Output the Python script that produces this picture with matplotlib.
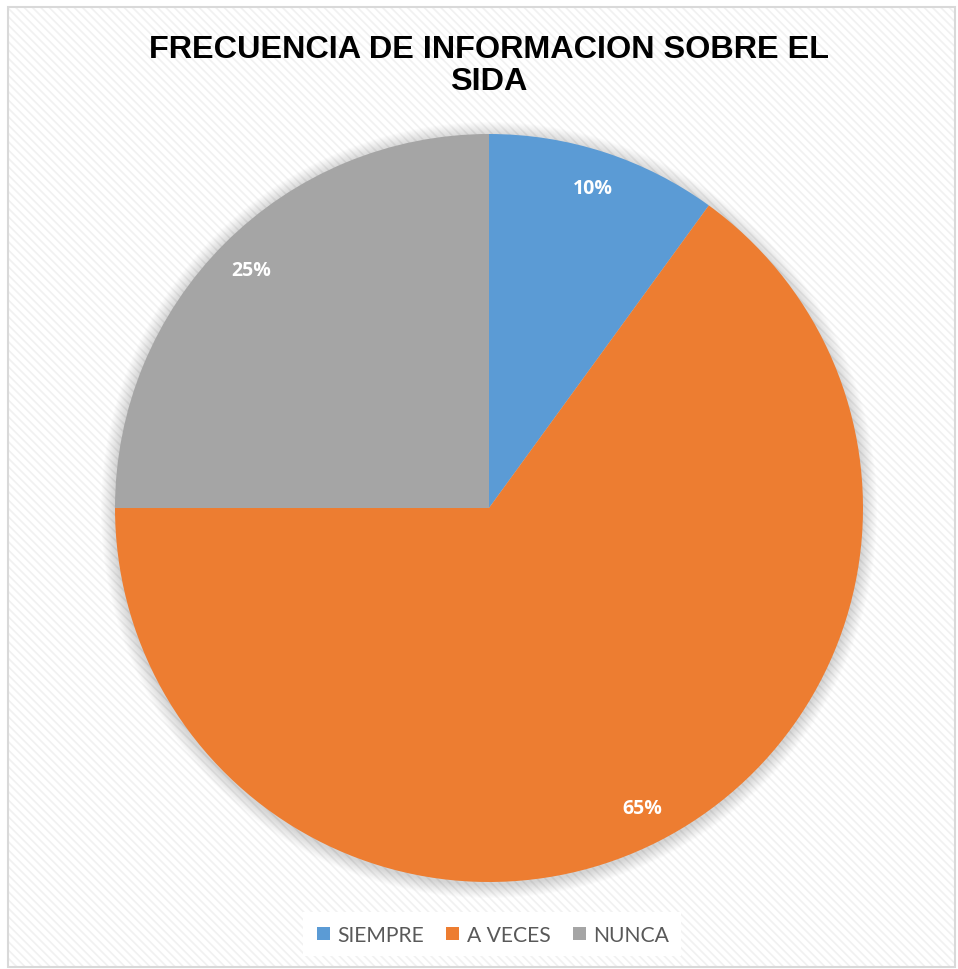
import matplotlib
matplotlib.use("Agg")
import matplotlib.pyplot as plt
from matplotlib.patches import Rectangle, Circle

categories = ["SIEMPRE", "A VECES", "NUNCA"]
values = [10, 65, 25]
colors = ["#5B9BD5", "#ED7D31", "#A5A5A5"]
title = "FRECUENCIA DE INFORMACION SOBRE EL\nSIDA"

W, H = 958, 970
fig = plt.figure(figsize=(W / 100, H / 100), dpi=100)
fig.patch.set_facecolor("white")

# background with faint diagonal stripes and border
bg = fig.add_axes([0, 0, 1, 1])
bg.set_xlim(0, W); bg.set_ylim(H, 0); bg.axis("off")
plt.rcParams["hatch.linewidth"] = 1.2
bg.add_patch(Rectangle((9, 8), W - 12, H - 11, facecolor="white",
                       edgecolor="#f1f1f1", hatch="\\\\\\\\", lw=0))
bg.add_patch(Rectangle((8.5, 7.5), W - 11, H - 10, facecolor="none",
                       edgecolor="#d9d9d9", lw=1.5))
# soft shadow around pie
cx, cy, R = 489, 509, 374
for i in range(14):
    bg.add_patch(Circle((cx, cy + 2), R + 14 - i, facecolor="#000000",
                        alpha=0.012, lw=0))

ax = fig.add_axes([(cx - R) / W, 1 - (cy + R) / H, 2 * R / W, 2 * R / H])
wedges, texts, autotexts = ax.pie(
    values, colors=colors, startangle=90, counterclock=False,
    autopct=lambda p: f"{p:.0f}%", pctdistance=0.9, radius=1.0,
    wedgeprops=dict(linewidth=0))
for t in autotexts:
    t.set_color("white")
    t.set_fontsize(14)
    t.set_fontweight("bold")
    t.set_family("Open Sans")
ax.set_xlim(-1, 1); ax.set_ylim(-1, 1)
ax.set_aspect("equal")
ax.axis("off")

fig.text(489 / W, 1 - 66 / H, title, ha="center", va="center",
         fontsize=23.3, fontweight="bold", family="Liberation Sans",
         linespacing=1.08, color="black")

# legend box
bg.add_patch(Rectangle((303, 913), 378, 44, facecolor="white", edgecolor="none"))
leg = fig.legend(wedges, categories, loc="center", bbox_to_anchor=(493 / W, 1 - 936 / H),
                 ncol=3, frameon=False, handlelength=0.62, handleheight=0.62,
                 handletextpad=0.35, columnspacing=1.05,
                 prop={"family": "Lato", "size": 15.2})
for t in leg.get_texts():
    t.set_color("#595959")

fig.savefig("out.png", dpi=100)
